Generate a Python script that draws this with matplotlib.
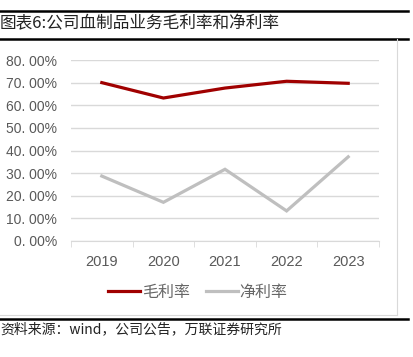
import matplotlib
matplotlib.use("Agg")
import matplotlib.pyplot as plt
from matplotlib.lines import Line2D
from matplotlib.ticker import FuncFormatter, FixedLocator

plt.rcParams['font.family'] = ['Noto Sans CJK SC', 'DejaVu Sans']

# data
years = ['2019', '2020', '2021', '2022', '2023']
gross_margin = [70.0, 63.2, 67.6, 70.6, 69.7]   # 毛利率, %
net_margin = [28.7, 17.1, 31.7, 13.3, 37.2]     # 净利率, %
y_ticks = [0, 10, 20, 30, 40, 50, 60, 70, 80]

W, H = 414, 357
fig = plt.figure(figsize=(W / 100, H / 100), dpi=100)

def fx(x):
    return x / W

def fy(y):
    return 1 - y / H

ax = fig.add_axes([fx(71), fy(241), fx(379) - fx(71), fy(60) - fy(241)])

x = list(range(len(years)))
ax.plot(x, gross_margin, color='#A00000', lw=2.3, solid_joinstyle='miter', label='毛利率', zorder=3)
ax.plot(x, net_margin, color='#BFBFBF', lw=2.3, solid_joinstyle='miter', label='净利率', zorder=3)

ax.set_xlim(-0.5, len(years) - 0.5)
ax.set_ylim(0, 80)
ax.set_yticks(y_ticks)
ax.yaxis.set_major_formatter(FuncFormatter(lambda v, p: '{:.0f}. 00%'.format(v)))
ax.set_xticks(x)
ax.set_xticklabels(years)
ax.xaxis.set_minor_locator(FixedLocator([i - 0.5 for i in range(len(years) + 1)]))

ax.grid(axis='y', color='#D9D9D9', lw=1.0, zorder=0)
for s in ['left', 'top', 'right']:
    ax.spines[s].set_visible(False)
ax.spines['bottom'].set_color('#D9D9D9')
ax.tick_params(axis='y', length=0, pad=10, labelsize=10, labelcolor='#595959')
ax.tick_params(axis='x', which='major', length=0, pad=10, labelsize=10.5, labelcolor='#595959')
ax.tick_params(axis='x', which='minor', length=4, color='#D9D9D9', direction='out')
for lbl in ax.get_xticklabels() + ax.get_yticklabels():
    lbl.set_fontfamily('Liberation Sans')

leg = fig.legend(loc='center', bbox_to_anchor=(fx(198), fy(292)), ncol=2, frameon=False,
                 fontsize=11.5, handlelength=2.0, handletextpad=0.1, columnspacing=1.0)
for t in leg.get_texts():
    t.set_color('#666666')

# title, frame lines and source note
fig.text(0, fy(24), '图表6:公司血制品业务毛利率和净利率', fontsize=12, va='center', ha='left',
         color='#222222', fontweight='light')
fig.add_artist(Line2D([0, fx(408)], [fy(10.5), fy(10.5)], color='black', lw=1.8, transform=fig.transFigure))
fig.add_artist(Line2D([0, fx(408)], [fy(38.5), fy(38.5)], color='black', lw=1.8, transform=fig.transFigure))
fig.add_artist(Line2D([fx(397), fx(397)], [fy(39), fy(315)], color='#D9D9D9', lw=0.8, transform=fig.transFigure))
fig.add_artist(Line2D([0, fx(397)], [fy(315), fy(315)], color='#D9D9D9', lw=0.8, transform=fig.transFigure))
fig.add_artist(Line2D([0, fx(408)], [fy(318.5), fy(318.5)], color='black', lw=1.8, transform=fig.transFigure))
fig.text(0, fy(329), '资料来源：wind，公司公告，万联证券研究所', fontsize=10, va='center', ha='left',
         color='#222222', fontweight='light')

fig.savefig('out.png', dpi=100)
